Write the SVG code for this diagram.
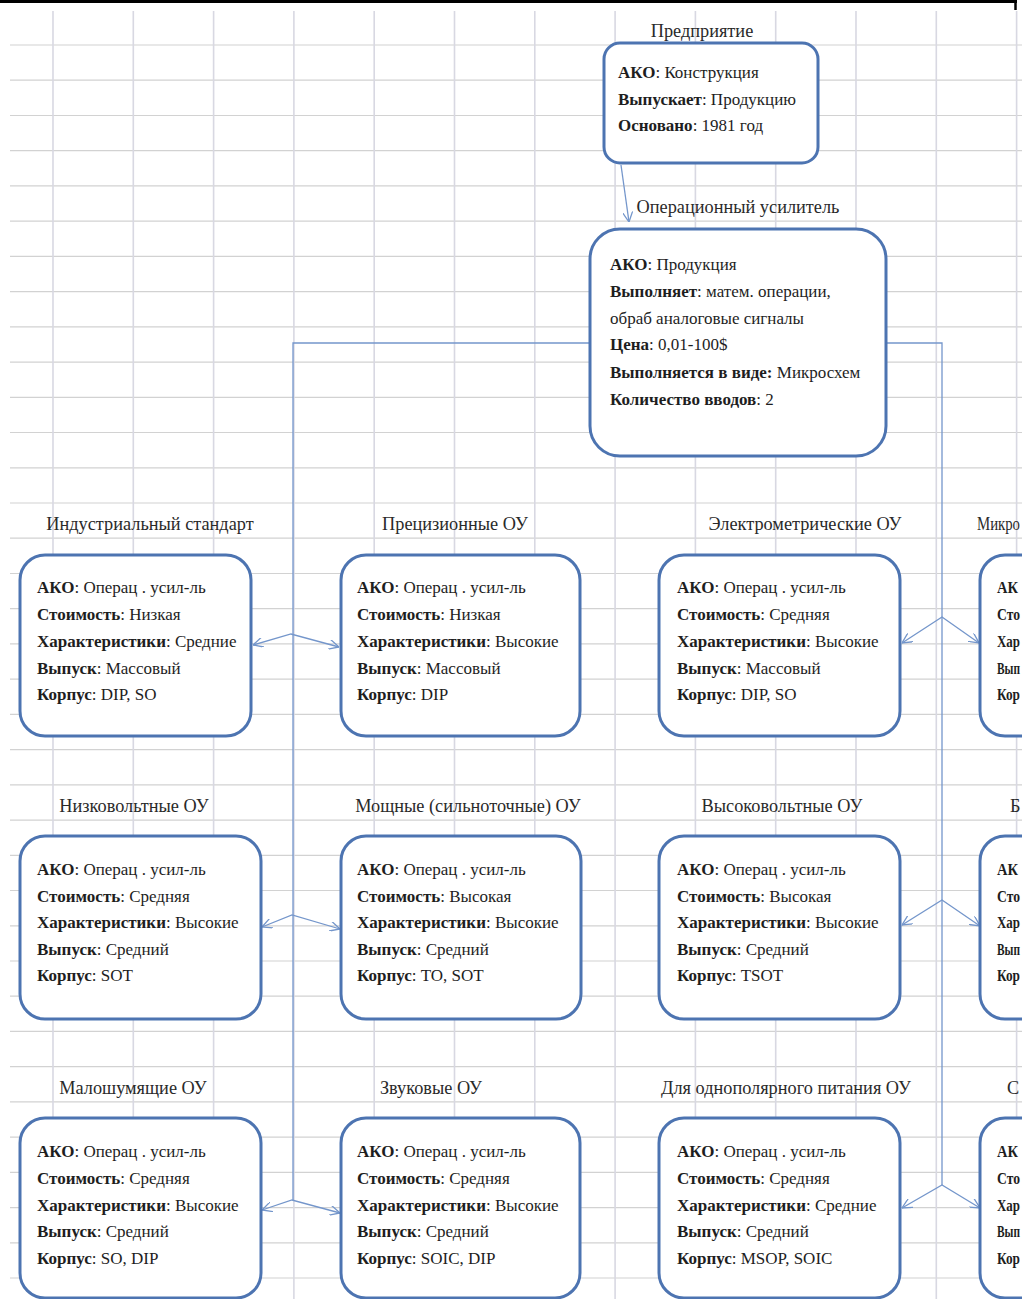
<svg xmlns="http://www.w3.org/2000/svg" width="1034" height="1299" viewBox="0 0 1034 1299">
<defs>
<style>
.bx{fill:#fff;stroke:#4d74b1;stroke-width:3}
.t{font-family:"Liberation Serif","Times New Roman",serif;font-size:17px;fill:#1e1e1e}
.b{font-weight:bold}
.lbl{font-family:"Liberation Serif","Times New Roman",serif;font-size:18.3px;fill:#2a2a2a;text-anchor:middle}
.cn{fill:none;stroke:#7496cb;stroke-width:1.3}
.gh{stroke:#d2d2d2;stroke-width:1.2}
.gv{stroke:#d8d8e2;stroke-width:1.6}
</style>
<marker id="ah" viewBox="0 0 10 10" refX="10" refY="5" markerWidth="10" markerHeight="10" markerUnits="userSpaceOnUse" orient="auto-start-reverse">
<path d="M0,0 L10,5 L0,10" fill="none" stroke="#7496cb" stroke-width="1.3"/>
</marker>
<clipPath id="clip"><rect x="0" y="0" width="1022" height="1299"/></clipPath>
</defs>
<rect x="0" y="0" width="1034" height="1299" fill="#fff"/>
<g id="grid" clip-path="url(#clip)">
<g class="gh">
<line x1="10" y1="45" x2="1022" y2="45"/><line x1="10" y1="80.2" x2="1022" y2="80.2"/><line x1="10" y1="115.5" x2="1022" y2="115.5"/><line x1="10" y1="150.7" x2="1022" y2="150.7"/><line x1="10" y1="185.9" x2="1022" y2="185.9"/><line x1="10" y1="221.2" x2="1022" y2="221.2"/><line x1="10" y1="256.4" x2="1022" y2="256.4"/><line x1="10" y1="291.6" x2="1022" y2="291.6"/><line x1="10" y1="326.8" x2="1022" y2="326.8"/><line x1="10" y1="362.1" x2="1022" y2="362.1"/><line x1="10" y1="397.3" x2="1022" y2="397.3"/><line x1="10" y1="432.5" x2="1022" y2="432.5"/><line x1="10" y1="467.8" x2="1022" y2="467.8"/><line x1="10" y1="503" x2="1022" y2="503"/><line x1="10" y1="538.2" x2="1022" y2="538.2"/><line x1="10" y1="573.5" x2="1022" y2="573.5"/><line x1="10" y1="608.7" x2="1022" y2="608.7"/><line x1="10" y1="643.9" x2="1022" y2="643.9"/><line x1="10" y1="679.1" x2="1022" y2="679.1"/><line x1="10" y1="714.4" x2="1022" y2="714.4"/><line x1="10" y1="749.6" x2="1022" y2="749.6"/><line x1="10" y1="784.8" x2="1022" y2="784.8"/><line x1="10" y1="820.1" x2="1022" y2="820.1"/><line x1="10" y1="855.3" x2="1022" y2="855.3"/><line x1="10" y1="890.5" x2="1022" y2="890.5"/><line x1="10" y1="925.8" x2="1022" y2="925.8"/><line x1="10" y1="961" x2="1022" y2="961"/><line x1="10" y1="996.2" x2="1022" y2="996.2"/><line x1="10" y1="1031.4" x2="1022" y2="1031.4"/><line x1="10" y1="1066.7" x2="1022" y2="1066.7"/><line x1="10" y1="1101.9" x2="1022" y2="1101.9"/><line x1="10" y1="1137.1" x2="1022" y2="1137.1"/><line x1="10" y1="1172.4" x2="1022" y2="1172.4"/><line x1="10" y1="1207.6" x2="1022" y2="1207.6"/><line x1="10" y1="1242.8" x2="1022" y2="1242.8"/><line x1="10" y1="1278" x2="1022" y2="1278"/>
</g>
<g class="gv">
<line x1="53" y1="11" x2="53" y2="1299"/><line x1="133.3" y1="11" x2="133.3" y2="1299"/><line x1="213.6" y1="11" x2="213.6" y2="1299"/><line x1="293.9" y1="11" x2="293.9" y2="1299"/><line x1="374.2" y1="11" x2="374.2" y2="1299"/><line x1="454.5" y1="11" x2="454.5" y2="1299"/><line x1="534.8" y1="11" x2="534.8" y2="1299"/><line x1="615.1" y1="11" x2="615.1" y2="1299"/><line x1="695.4" y1="11" x2="695.4" y2="1299"/><line x1="775.7" y1="11" x2="775.7" y2="1299"/><line x1="856" y1="11" x2="856" y2="1299"/><line x1="936.3" y1="11" x2="936.3" y2="1299"/><line x1="1016.6" y1="11" x2="1016.6" y2="1299"/>
</g>
</g>
<g id="frame">
<line x1="0" y1="1.5" x2="1017" y2="1.5" stroke="#000" stroke-width="3"/>
<line x1="1015.5" y1="0" x2="1015.5" y2="10" stroke="#000" stroke-width="2.5"/>
</g>
<g id="connectors">
<path class="cn" d="M621,165 L629,222" marker-end="url(#ah)"/>
<path class="cn" d="M590,343 L293,343 L293,1200"/>
<path class="cn" d="M887,343 L942,343 L942,1185"/>
<path class="cn" d="M253,645 L291,634 L339,647" marker-start="url(#ah)" marker-end="url(#ah)"/>
<path class="cn" d="M902,643 L942,617 L979,643" marker-start="url(#ah)" marker-end="url(#ah)"/>
<path class="cn" d="M262,927 L292,915 L340,929" marker-start="url(#ah)" marker-end="url(#ah)"/>
<path class="cn" d="M902,925 L942,900 L980,926" marker-start="url(#ah)" marker-end="url(#ah)"/>
<path class="cn" d="M262,1210 L292,1200 L340,1213" marker-start="url(#ah)" marker-end="url(#ah)"/>
<path class="cn" d="M902,1208 L942,1185 L980,1208" marker-start="url(#ah)" marker-end="url(#ah)"/>
</g>
<g id="n-enterprise">
<text class="lbl" x="702" y="37">Предприятие</text>
<rect class="bx" x="604" y="43" width="214" height="120" rx="16"/>
<text class="t" x="618" y="78"><tspan class="b">АКО</tspan>:  Конструкция</text>
<text class="t" x="618" y="105"><tspan class="b">Выпускает</tspan>: Продукцию</text>
<text class="t" x="618" y="131"><tspan class="b">Основано</tspan>: 1981 год</text>
</g>
<g id="n-opamp">
<text class="lbl" x="738" y="213">Операционный усилитель</text>
<rect class="bx" x="590" y="229" width="296" height="227" rx="30"/>
<text class="t" x="610" y="270"><tspan class="b">АКО</tspan>:  Продукция</text>
<text class="t" x="610" y="297"><tspan class="b">Выполняет</tspan>: матем. операции,</text>
<text class="t" x="610" y="324">обраб аналоговые сигналы</text>
<text class="t" x="610" y="350"><tspan class="b">Цена</tspan>: 0,01-100$</text>
<text class="t" x="610" y="378"><tspan class="b">Выполняется в виде:</tspan> Микросхем</text>
<text class="t" x="610" y="405"><tspan class="b">Количество вводов</tspan>: 2</text>
</g>
<g id="n-industrial">
<text class="lbl" x="150" y="530">Индустриальный стандарт</text>
<rect class="bx" x="20" y="555" width="231" height="181" rx="25"/>
<text class="t" x="37" y="593"><tspan class="b">АКО</tspan>: Операц . усил-ль</text>
<text class="t" x="37" y="620"><tspan class="b">Стоимость</tspan>: Низкая</text>
<text class="t" x="37" y="647"><tspan class="b">Характеристики</tspan>: Средние</text>
<text class="t" x="37" y="674"><tspan class="b">Выпуск</tspan>: Массовый</text>
<text class="t" x="37" y="700"><tspan class="b">Корпус</tspan>: DIP, SO</text>
</g>
<g id="n-precision">
<text class="lbl" x="455" y="530">Прецизионные ОУ</text>
<rect class="bx" x="341" y="555" width="239" height="181" rx="25"/>
<text class="t" x="357" y="593"><tspan class="b">АКО</tspan>: Операц . усил-ль</text>
<text class="t" x="357" y="620"><tspan class="b">Стоимость</tspan>: Низкая</text>
<text class="t" x="357" y="647"><tspan class="b">Характеристики</tspan>: Высокие</text>
<text class="t" x="357" y="674"><tspan class="b">Выпуск</tspan>: Массовый</text>
<text class="t" x="357" y="700"><tspan class="b">Корпус</tspan>: DIP</text>
</g>
<g id="n-electrometric">
<text class="lbl" x="805" y="530">Электрометрические ОУ</text>
<rect class="bx" x="659" y="555" width="241" height="181" rx="25"/>
<text class="t" x="677" y="593"><tspan class="b">АКО</tspan>: Операц . усил-ль</text>
<text class="t" x="677" y="620"><tspan class="b">Стоимость</tspan>: Средняя</text>
<text class="t" x="677" y="647"><tspan class="b">Характеристики</tspan>: Высокие</text>
<text class="t" x="677" y="674"><tspan class="b">Выпуск</tspan>: Массовый</text>
<text class="t" x="677" y="700"><tspan class="b">Корпус</tspan>: DIP, SO</text>
</g>
<g id="n-micro" clip-path="url(#clip)">
<text class="lbl" x="977" y="530" style="text-anchor:start" textLength="43" lengthAdjust="spacingAndGlyphs">Микро</text>
<rect class="bx" x="980" y="555" width="240" height="181" rx="25"/>
<text class="t b" x="997" y="593" textLength="21" lengthAdjust="spacingAndGlyphs">АК</text>
<text class="t b" x="997" y="620" textLength="23" lengthAdjust="spacingAndGlyphs">Сто</text>
<text class="t b" x="997" y="647" textLength="23" lengthAdjust="spacingAndGlyphs">Хар</text>
<text class="t b" x="997" y="674" textLength="23" lengthAdjust="spacingAndGlyphs">Вып</text>
<text class="t b" x="997" y="700" textLength="23" lengthAdjust="spacingAndGlyphs">Кор</text>
</g>
<g id="n-lowvolt">
<text class="lbl" x="134" y="812">Низковольтные ОУ</text>
<rect class="bx" x="20" y="836" width="241" height="183" rx="25"/>
<text class="t" x="37" y="875"><tspan class="b">АКО</tspan>: Операц . усил-ль</text>
<text class="t" x="37" y="902"><tspan class="b">Стоимость</tspan>: Средняя</text>
<text class="t" x="37" y="928"><tspan class="b">Характеристики</tspan>: Высокие</text>
<text class="t" x="37" y="955"><tspan class="b">Выпуск</tspan>: Средний</text>
<text class="t" x="37" y="981"><tspan class="b">Корпус</tspan>: SOT</text>
</g>
<g id="n-power">
<text class="lbl" x="468" y="812">Мощные (сильноточные) ОУ</text>
<rect class="bx" x="341" y="836" width="240" height="183" rx="25"/>
<text class="t" x="357" y="875"><tspan class="b">АКО</tspan>: Операц . усил-ль</text>
<text class="t" x="357" y="902"><tspan class="b">Стоимость</tspan>: Высокая</text>
<text class="t" x="357" y="928"><tspan class="b">Характеристики</tspan>: Высокие</text>
<text class="t" x="357" y="955"><tspan class="b">Выпуск</tspan>: Средний</text>
<text class="t" x="357" y="981"><tspan class="b">Корпус</tspan>: TO, SOT</text>
</g>
<g id="n-highvolt">
<text class="lbl" x="782" y="812">Высоковольтные ОУ</text>
<rect class="bx" x="659" y="836" width="241" height="183" rx="25"/>
<text class="t" x="677" y="875"><tspan class="b">АКО</tspan>: Операц . усил-ль</text>
<text class="t" x="677" y="902"><tspan class="b">Стоимость</tspan>: Высокая</text>
<text class="t" x="677" y="928"><tspan class="b">Характеристики</tspan>: Высокие</text>
<text class="t" x="677" y="955"><tspan class="b">Выпуск</tspan>: Средний</text>
<text class="t" x="677" y="981"><tspan class="b">Корпус</tspan>: TSOT</text>
</g>
<g id="n-row2-right" clip-path="url(#clip)">
<text class="lbl" x="1010" y="812" style="text-anchor:start">Б</text>
<rect class="bx" x="980" y="836" width="240" height="183" rx="25"/>
<text class="t b" x="997" y="875" textLength="21" lengthAdjust="spacingAndGlyphs">АК</text>
<text class="t b" x="997" y="902" textLength="23" lengthAdjust="spacingAndGlyphs">Сто</text>
<text class="t b" x="997" y="928" textLength="23" lengthAdjust="spacingAndGlyphs">Хар</text>
<text class="t b" x="997" y="955" textLength="23" lengthAdjust="spacingAndGlyphs">Вып</text>
<text class="t b" x="997" y="981" textLength="23" lengthAdjust="spacingAndGlyphs">Кор</text>
</g>
<g id="n-lownoise">
<text class="lbl" x="133" y="1094">Малошумящие ОУ</text>
<rect class="bx" x="20" y="1118" width="241" height="180" rx="25"/>
<text class="t" x="37" y="1157"><tspan class="b">АКО</tspan>: Операц . усил-ль</text>
<text class="t" x="37" y="1184"><tspan class="b">Стоимость</tspan>: Средняя</text>
<text class="t" x="37" y="1211"><tspan class="b">Характеристики</tspan>: Высокие</text>
<text class="t" x="37" y="1237"><tspan class="b">Выпуск</tspan>: Средний</text>
<text class="t" x="37" y="1264"><tspan class="b">Корпус</tspan>: SO, DIP</text>
</g>
<g id="n-audio">
<text class="lbl" x="431" y="1094">Звуковые ОУ</text>
<rect class="bx" x="341" y="1118" width="239" height="180" rx="25"/>
<text class="t" x="357" y="1157"><tspan class="b">АКО</tspan>: Операц . усил-ль</text>
<text class="t" x="357" y="1184"><tspan class="b">Стоимость</tspan>: Средняя</text>
<text class="t" x="357" y="1211"><tspan class="b">Характеристики</tspan>: Высокие</text>
<text class="t" x="357" y="1237"><tspan class="b">Выпуск</tspan>: Средний</text>
<text class="t" x="357" y="1264"><tspan class="b">Корпус</tspan>: SOIC, DIP</text>
</g>
<g id="n-singlesupply">
<text class="lbl" x="786" y="1094">Для однополярного питания ОУ</text>
<rect class="bx" x="659" y="1118" width="241" height="180" rx="25"/>
<text class="t" x="677" y="1157"><tspan class="b">АКО</tspan>: Операц . усил-ль</text>
<text class="t" x="677" y="1184"><tspan class="b">Стоимость</tspan>: Средняя</text>
<text class="t" x="677" y="1211"><tspan class="b">Характеристики</tspan>: Средние</text>
<text class="t" x="677" y="1237"><tspan class="b">Выпуск</tspan>: Средний</text>
<text class="t" x="677" y="1264"><tspan class="b">Корпус</tspan>: MSOP, SOIC</text>
</g>
<g id="n-row3-right" clip-path="url(#clip)">
<text class="lbl" x="1007" y="1094" style="text-anchor:start">С</text>
<rect class="bx" x="980" y="1118" width="240" height="180" rx="25"/>
<text class="t b" x="997" y="1157" textLength="21" lengthAdjust="spacingAndGlyphs">АК</text>
<text class="t b" x="997" y="1184" textLength="23" lengthAdjust="spacingAndGlyphs">Сто</text>
<text class="t b" x="997" y="1211" textLength="23" lengthAdjust="spacingAndGlyphs">Хар</text>
<text class="t b" x="997" y="1237" textLength="23" lengthAdjust="spacingAndGlyphs">Вып</text>
<text class="t b" x="997" y="1264" textLength="23" lengthAdjust="spacingAndGlyphs">Кор</text>
</g>
</svg>
